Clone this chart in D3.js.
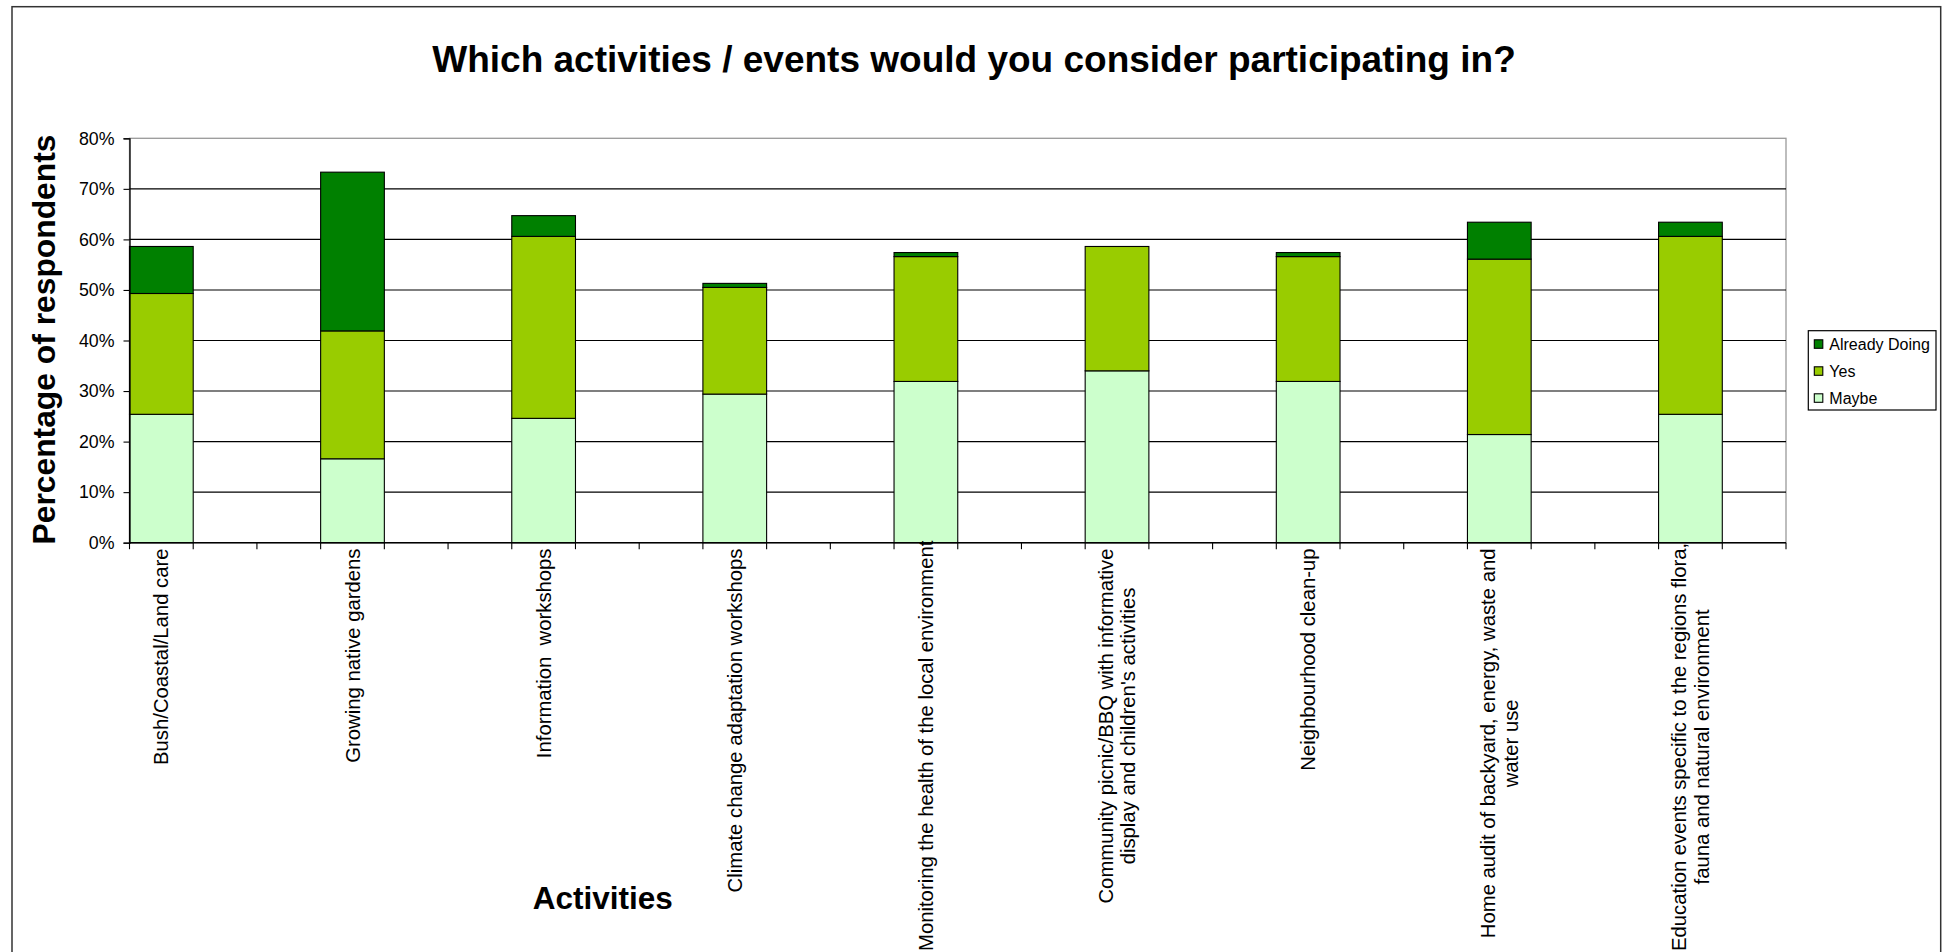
<!DOCTYPE html>
<html>
<head>
<meta charset="utf-8">
<script src="https://cdn.jsdelivr.net/npm/d3@7"></script>
<style>
  html, body { margin: 0; padding: 0; background: #fff; }
  svg { display: block; }
  text { font-family: "Liberation Sans", Arial, Helvetica, sans-serif; fill: #000; }
</style>
</head>
<body>
<svg id="chart" width="1944" height="952"></svg>
<script>
// ---- data ----
const categories = [
  "Bush/Coastal/Land care",
  "Growing native gardens",
  "Information  workshops",
  "Climate change adaptation workshops",
  "Monitoring the health of the local environment",
  "Community picnic/BBQ with informative\ndisplay and children's activities",
  "Neighbourhood clean-up",
  "Home audit of backyard, energy, waste and\nwater use",
  "Education events specific to the regions flora,\nfauna and natural environment"
];
const seriesNames = ["Maybe", "Yes", "Already Doing"];
const maybe        = [25.4, 16.6, 24.6, 29.4, 31.9, 34.0, 31.9, 21.4, 25.4];
const yes          = [23.9, 25.3, 36.0, 21.1, 24.7, 24.6, 24.7, 34.7, 35.2];
const alreadyDoing = [ 9.3, 31.4,  4.1,  0.8,  0.8,  0.0,  0.8,  7.3,  2.8];
const yTicks = [0, 10, 20, 30, 40, 50, 60, 70, 80];
const colors = { "Maybe": "#CCFFCC", "Yes": "#99CC00", "Already Doing": "#008000" };
const titleText = "Which activities / events would you consider participating in?";
const yTitle = "Percentage of respondents";
const xTitle = "Activities";

// ---- layout ----
const W = 1944, H = 952;
const plotL = 129.5, plotR = 1786, plotT = 138.3, plotB = 542.7;
const stepThird = (plotR - plotL) / 26;

const svg = d3.select("#chart");

// outer chart border
svg.append("rect")
  .attr("x", 12).attr("y", 6.7)
  .attr("width", 1940.7 - 12).attr("height", 980)
  .attr("fill", "none").attr("stroke", "#333").attr("stroke-width", 1.5);

const x = d3.scaleBand()
  .domain(categories)
  .range([plotL, plotR - stepThird])
  .paddingInner(2 / 3)
  .paddingOuter(0);

const y = d3.scaleLinear().domain([0, 80]).range([plotB, plotT]);

// plot area border
svg.append("rect")
  .attr("x", plotL).attr("y", plotT)
  .attr("width", plotR - plotL).attr("height", plotB - plotT)
  .attr("fill", "none").attr("stroke", "#9a9a9a").attr("stroke-width", 1.3);

// gridlines
svg.append("g").selectAll("line")
  .data(yTicks.filter(d => d > 0 && d < 80))
  .join("line")
  .attr("x1", plotL).attr("x2", plotR)
  .attr("y1", d => y(d)).attr("y2", d => y(d))
  .attr("stroke", "#000").attr("stroke-width", 1.1);

// stacked data
const rows = categories.map((c, i) => ({
  cat: c, "Maybe": maybe[i], "Yes": yes[i], "Already Doing": alreadyDoing[i]
}));
const stack = d3.stack().keys(seriesNames)(rows);

svg.append("g").selectAll("g")
  .data(stack)
  .join("g")
  .attr("fill", d => colors[d.key])
  .selectAll("rect")
  .data(d => d)
  .join("rect")
  .attr("x", d => x(d.data.cat))
  .attr("width", x.bandwidth())
  .attr("y", d => y(d[1]))
  .attr("height", d => y(d[0]) - y(d[1]))
  .attr("stroke", "#000").attr("stroke-width", 1.1);

// y axis
const yAxis = d3.axisLeft(y).tickValues(yTicks).tickSize(6).tickPadding(9)
  .tickFormat(d => d + "%");
const gy = svg.append("g").attr("transform", `translate(${plotL},0)`).call(yAxis);
gy.select(".domain").attr("stroke", "#000").attr("stroke-width", 1.3);
gy.selectAll(".tick line").attr("stroke", "#000").attr("stroke-width", 1.1);
gy.selectAll(".tick text")
  .attr("font-size", "17.8px")
  .attr("font-family", "'Liberation Sans', Arial, sans-serif")
  .attr("fill", "#000");

// x axis line and tick marks (bar edges and thirds)
svg.append("line")
  .attr("x1", plotL).attr("x2", plotR)
  .attr("y1", plotB).attr("y2", plotB)
  .attr("stroke", "#000").attr("stroke-width", 1.5);
const tickXs = [];
categories.forEach(c => {
  const s = x(c);
  tickXs.push(s, s + x.bandwidth(), s + 2 * x.bandwidth());
});
svg.append("g").selectAll("line")
  .data(tickXs)
  .join("line")
  .attr("x1", d => d).attr("x2", d => d)
  .attr("y1", plotB).attr("y2", plotB + 6.5)
  .attr("stroke", "#000").attr("stroke-width", 1.1);

// x tick labels (rotated, multi-line, centered)
const labelTop = 548.5, labelBottomMax = 951;
const fs = 20.3, lineGap = 22.3;
const gl = svg.append("g");
categories.forEach(c => {
  const lines = c.split("\n");
  const cx = x(c) + x.bandwidth() / 2;
  const g = gl.append("g");
  const t = g.append("text")
    .attr("font-size", fs + "px")
    .attr("text-anchor", "middle")
    .style("white-space", "pre");
  lines.forEach((ln, k) => {
    t.append("tspan")
      .attr("x", 0)
      .attr("y", (k - (lines.length - 1) / 2) * lineGap + fs * 0.35)
      .text(ln);
  });
  let L = 0;
  t.selectAll("tspan").each(function () { L = Math.max(L, this.getComputedTextLength()); });
  let yc = labelTop + L / 2;
  if (yc + L / 2 > labelBottomMax) yc = labelBottomMax - L / 2;
  g.attr("transform", `translate(${cx},${yc}) rotate(-90)`);
});

// title
svg.append("text")
  .attr("x", 974).attr("y", 72.3)
  .attr("text-anchor", "middle")
  .attr("font-size", "37px").attr("font-weight", "bold")
  .text(titleText);

// y title
svg.append("text")
  .attr("transform", "translate(55,339.5) rotate(-90)")
  .attr("text-anchor", "middle")
  .attr("font-size", "31.8px").attr("font-weight", "bold")
  .text(yTitle);

// x title
svg.append("text")
  .attr("x", 602.7).attr("y", 909)
  .attr("text-anchor", "middle")
  .attr("font-size", "31.5px").attr("font-weight", "bold")
  .text(xTitle);

// legend
const legendOrder = ["Already Doing", "Yes", "Maybe"];
const lg = svg.append("g");
lg.append("rect")
  .attr("x", 1808.3).attr("y", 330.7)
  .attr("width", 1936 - 1808.3).attr("height", 410 - 330.7)
  .attr("fill", "#fff").attr("stroke", "#000").attr("stroke-width", 1.2);
const li = lg.selectAll("g.item")
  .data(legendOrder)
  .join("g")
  .attr("class", "item")
  .attr("transform", (d, i) => `translate(0,${344.3 + i * 27})`);
li.append("rect")
  .attr("x", 1814.3).attr("y", -4.5)
  .attr("width", 8.5).attr("height", 8.5)
  .attr("fill", d => colors[d])
  .attr("stroke", "#000").attr("stroke-width", 1.1);
li.append("text")
  .attr("x", 1829.3).attr("y", 5.8)
  .attr("font-size", "16px")
  .text(d => d);
</script>
</body>
</html>
